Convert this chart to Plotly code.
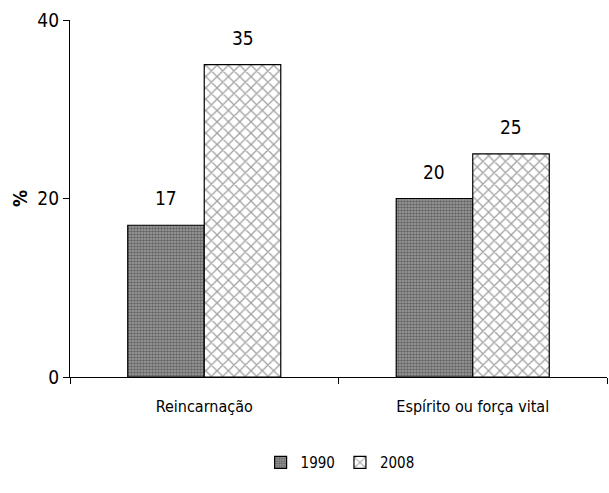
import plotly.graph_objects as go

categories = ["Reincarnação", "Espírito ou força vital"]
years = ["1990", "2008"]
values_1990 = [17, 20]
values_2008 = [35, 25]
y_ticks = [0, 20, 40]

FONT = "DejaVu Sans Condensed, Liberation Sans Narrow, Arial Narrow, sans-serif"

fig = go.Figure()

fig.add_trace(go.Bar(
    name=years[0],
    x=categories,
    y=values_1990,
    marker=dict(
        color="#a8a8a8",
        line=dict(color="black", width=1.2),
        pattern=dict(shape=".", fgcolor="#2a2a2a", bgcolor="#a0a0a0",
                     size=3, solidity=0.55),
    ),
))

fig.add_trace(go.Bar(
    name=years[1],
    x=categories,
    y=values_2008,
    marker=dict(
        color="white",
        line=dict(color="black", width=1.2),
        pattern=dict(shape="x", fgcolor="#444444", bgcolor="white",
                     size=8, solidity=0.3),
    ),
))

# value labels above each bar
for vals, shift in ((values_1990, -38.5), (values_2008, 38.5)):
    for cat, v in zip(categories, vals):
        fig.add_annotation(
            x=cat, y=v, text=str(v), showarrow=False,
            xshift=shift, yshift=14, yanchor="bottom",
            font=dict(family=FONT, size=19, color="black"),
        )

fig.update_layout(
    width=609,
    height=493,
    margin=dict(l=70, r=2, t=20, b=116),
    paper_bgcolor="white",
    plot_bgcolor="white",
    barmode="group",
    bargap=0.43,
    bargroupgap=0,
    font=dict(family=FONT, size=16, color="black"),
    showlegend=True,
    legend=dict(
        orientation="h",
        x=0.503, xanchor="center",
        y=-0.24, yanchor="middle",
        font=dict(family=FONT, size=15),
        itemwidth=30,
        tracegroupgap=0,
    ),
    xaxis=dict(
        showline=True,
        linecolor="black",
        linewidth=1.2,
        ticks="outside",
        tickson="boundaries",
        ticklen=6,
        tickcolor="black",
        tickfont=dict(family=FONT, size=16),
        ticklabelstandoff=15,
        showgrid=False,
    ),
    yaxis=dict(
        range=[0, 40],
        tickvals=y_ticks,
        showline=True,
        linecolor="black",
        linewidth=1.2,
        ticks="outside",
        ticklen=6,
        tickcolor="black",
        tickfont=dict(family=FONT, size=19),
        showgrid=False,
        zeroline=False,
        title=dict(text="<b>%</b>", font=dict(family=FONT, size=19), standoff=4),
    ),
)

fig.write_html("out.html")
